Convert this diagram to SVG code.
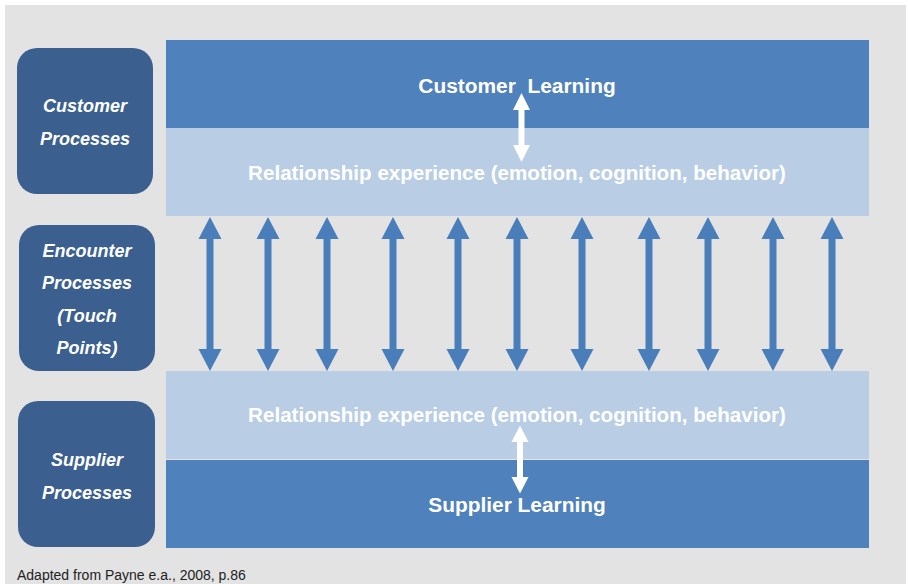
<svg xmlns="http://www.w3.org/2000/svg" width="908" height="584" viewBox="0 0 908 584">
<defs>
<style>
.box{fill:#3b6090;}
.dark{fill:#4f81bd;}
.light{fill:#b9cde5;}
.blbl{font-family:"Liberation Sans",Arial,sans-serif;font-weight:bold;font-style:italic;font-size:18px;fill:#ffffff;text-anchor:middle;}
.band{font-family:"Liberation Sans",Arial,sans-serif;font-weight:bold;font-size:20.6px;fill:#ffffff;text-anchor:middle;}
.learn{font-size:20.9px;}
.arr{fill:#4a7ebb;}
.warr{fill:#ffffff;}
</style>
<path id="ba" d="M0,0 L11.5,22 L3.5,22 L3.5,132 L11.5,132 L0,154 L-11.5,132 L-3.5,132 L-3.5,22 L-11.5,22 Z"/>
</defs>
<rect x="0" y="0" width="908" height="584" fill="#ffffff"/>
<rect x="5" y="5" width="901" height="579" fill="#e3e3e3"/>

<g id="customer-learning">
<rect class="dark" x="166" y="40" width="703" height="88"/>
<text class="band learn" x="517" y="92.5" xml:space="preserve">Customer  Learning</text>
</g>
<g id="customer-experience">
<rect class="light" x="166" y="128" width="703" height="88"/>
<text class="band" x="517" y="180">Relationship experience (emotion, cognition, behavior)</text>
</g>
<g id="supplier-experience">
<rect class="light" x="166" y="371" width="703" height="88"/>
<text class="band" x="517" y="422">Relationship experience (emotion, cognition, behavior)</text>
</g>
<g id="supplier-learning">
<rect class="dark" x="166" y="460" width="703" height="88"/>
<text class="band learn" x="517" y="512">Supplier Learning</text>
</g>

<g id="customer-processes">
<rect class="box" x="17" y="48" width="136" height="146" rx="20"/>
<text class="blbl" x="85" y="112">Customer</text>
<text class="blbl" x="85" y="145">Processes</text>
</g>
<g id="encounter-processes">
<rect class="box" x="19" y="225" width="136" height="146" rx="20"/>
<text class="blbl" x="87" y="257">Encounter</text>
<text class="blbl" x="87" y="289">Processes</text>
<text class="blbl" x="87" y="322">(Touch</text>
<text class="blbl" x="87" y="354">Points)</text>
</g>
<g id="supplier-processes">
<rect class="box" x="18" y="401" width="137" height="146" rx="20"/>
<text class="blbl" x="87" y="466">Supplier</text>
<text class="blbl" x="87" y="499">Processes</text>
</g>

<g id="connectors">
<use href="#ba" class="arr" transform="translate(210,217)"/>
<use href="#ba" class="arr" transform="translate(268,217)"/>
<use href="#ba" class="arr" transform="translate(327,217)"/>
<use href="#ba" class="arr" transform="translate(393,217)"/>
<use href="#ba" class="arr" transform="translate(458,217)"/>
<use href="#ba" class="arr" transform="translate(517,217)"/>
<use href="#ba" class="arr" transform="translate(582,217)"/>
<use href="#ba" class="arr" transform="translate(649,217)"/>
<use href="#ba" class="arr" transform="translate(708,217)"/>
<use href="#ba" class="arr" transform="translate(773,217)"/>
<use href="#ba" class="arr" transform="translate(832,217)"/>
<path class="warr" d="M521.5,93 L530,110 L524.5,110 L524.5,145 L530,145 L521.5,162 L513,145 L518.5,145 L518.5,110 L513,110 Z"/>
<path class="warr" d="M520,425.5 L528.5,442 L523,442 L523,477 L528.5,477 L520,493.5 L511.5,477 L517,477 L517,442 L511.5,442 Z"/>
</g>

<text x="17" y="580" font-family="Liberation Sans,Arial,sans-serif" font-size="14" fill="#222222">Adapted from Payne e.a., 2008, p.86</text>
</svg>
